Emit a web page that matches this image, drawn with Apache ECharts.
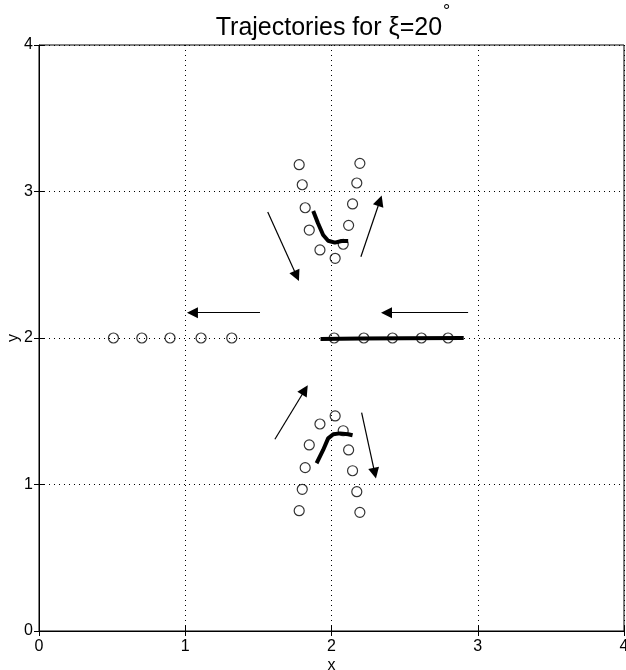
<!DOCTYPE html>
<html>
<head>
<meta charset="utf-8">
<script src="https://cdn.jsdelivr.net/npm/echarts@6/dist/echarts.min.js"></script>
<style>
html, body { margin: 0; padding: 0; background: #fff; }
#echart { width: 626px; height: 670px; }
</style>
</head>
<body>
<div id="echart"></div>
<script>
// circles (positions of the markers)
var upperCircles = [
    [1.779, 3.183], [1.800, 3.046], [1.820, 2.889], [1.848, 2.737], [1.921, 2.601],
    [2.025, 2.544], [2.080, 2.640], [2.117, 2.769], [2.144, 2.915], [2.173, 3.058], [2.194, 3.192]
];
var lowerCircles = [
    [1.779, 0.821], [1.800, 0.967], [1.820, 1.115], [1.848, 1.270], [1.921, 1.413],
    [2.025, 1.468], [2.080, 1.367], [2.117, 1.236], [2.144, 1.094], [2.173, 0.951], [2.194, 0.810]
];
var leftCircles = [[0.509, 2], [0.703, 2], [0.896, 2], [1.108, 2], [1.318, 2]];
var rightCircles = [[2.018, 2], [2.221, 2], [2.417, 2], [2.615, 2], [2.797, 2]];

// thick trajectory paths
var upperPath = [
    [1.875, 2.867], [1.907, 2.785], [1.943, 2.703], [1.977, 2.664],
    [2.023, 2.651], [2.069, 2.662], [2.114, 2.662]
];
var lowerPath = [
    [1.898, 1.145], [1.943, 1.236], [1.977, 1.315], [2.012, 1.343],
    [2.057, 1.349], [2.114, 1.343], [2.144, 1.336]
];
var middlePath = [[1.925, 1.993], [2.2, 1.996], [2.5, 1.998], [2.904, 2.0]];

// arrows: start -> head
var arrowStart = [[1.511, 2.173], [2.934, 2.173], [1.564, 2.860], [2.201, 2.555], [1.613, 1.309], [2.206, 1.490]];
var arrowEnd = [[1.049, 2.173], [2.376, 2.173], [1.762, 2.423], [2.331, 2.937], [1.818, 1.645], [2.296, 1.077]];

var myChart = echarts.init(document.getElementById('echart'));

var font = 'Liberation Sans, Arial, Helvetica, sans-serif';

function circleSeries(d) {
    return {
        type: 'scatter',
        data: d,
        symbol: 'circle',
        symbolSize: 10,
        itemStyle: { color: 'rgba(0,0,0,0)', borderColor: '#000', borderWidth: 1.2 },
        z: 3
    };
}
function pathSeries(d) {
    return {
        type: 'line',
        data: d,
        showSymbol: false,
        lineStyle: { color: '#000', width: 4 },
        z: 4
    };
}

var arrowData = [];
for (var i = 0; i < arrowStart.length; i++) {
    arrowData.push({ coords: [arrowStart[i], arrowEnd[i]] });
}

var option = {
    animation: false,
    backgroundColor: '#fff',
    title: {
        text: '{m|Trajectories for ξ=20}{sup|°}',
        left: 333,
        textAlign: 'center',
        top: 3,
        padding: 0,
        textStyle: {
            fontWeight: 'normal',
            rich: {
                m: { fontFamily: font, fontSize: 25, fontWeight: 'normal', color: '#000', verticalAlign: 'bottom', padding: [13, 0, 0, 0] },
                sup: { fontFamily: font, fontSize: 18, fontWeight: 'normal', color: '#000', verticalAlign: 'top', padding: [0, 0, 0, 1] }
            }
        }
    },
    grid: {
        left: 39, right: 2, top: 45, bottom: 39,
        outerBoundsMode: 'none',
        containLabel: false,
        show: true, borderColor: '#000', borderWidth: 1
    },
    xAxis: [{
        type: 'value', min: 0, max: 4, interval: 1,
        name: 'x', nameLocation: 'middle', nameGap: 27, nameMoveOverlap: false,
        nameTextStyle: { fontFamily: font, fontSize: 16, color: '#000' },
        axisLine: { show: true, lineStyle: { color: '#000' } },
        axisTick: { show: true, inside: true, length: 5, lineStyle: { color: '#000' } },
        axisLabel: { fontFamily: font, fontSize: 16, color: '#000', margin: 8 },
        splitLine: { show: true, lineStyle: { color: '#000', type: [1, 4] } }
    }, {
        type: 'value', min: 0, max: 4, interval: 1, position: 'top',
        axisLine: { show: false },
        axisTick: { show: true, inside: true, length: 5, lineStyle: { color: '#000' } },
        axisLabel: { show: false },
        splitLine: { show: false }
    }],
    yAxis: [{
        type: 'value', min: 0, max: 4, interval: 1,
        name: 'y', nameLocation: 'middle', nameGap: 17, nameRotate: 90, nameMoveOverlap: false,
        nameTextStyle: { fontFamily: font, fontSize: 16, color: '#000' },
        axisLine: { show: true, lineStyle: { color: '#000' } },
        axisTick: { show: true, inside: true, length: 5, lineStyle: { color: '#000' } },
        axisLabel: { fontFamily: font, fontSize: 16, color: '#000', margin: 6 },
        splitLine: { show: true, lineStyle: { color: '#000', type: [1, 4] } }
    }, {
        type: 'value', min: 0, max: 4, interval: 1, position: 'right',
        axisLine: { show: false },
        axisTick: { show: true, inside: true, length: 5, lineStyle: { color: '#000' } },
        axisLabel: { show: false },
        splitLine: { show: false }
    }],
    series: [
        circleSeries(upperCircles),
        circleSeries(lowerCircles),
        circleSeries(leftCircles),
        circleSeries(rightCircles),
        pathSeries(upperPath),
        pathSeries(lowerPath),
        pathSeries(middlePath),
        {
            type: 'lines',
            coordinateSystem: 'cartesian2d',
            data: arrowData,
            symbol: ['none', 'triangle'],
            symbolSize: 11,
            lineStyle: { color: '#000', width: 1.2, opacity: 1 },
            itemStyle: { color: '#000' },
            z: 5
        }
    ]
};

myChart.setOption(option);
</script>
</body>
</html>
